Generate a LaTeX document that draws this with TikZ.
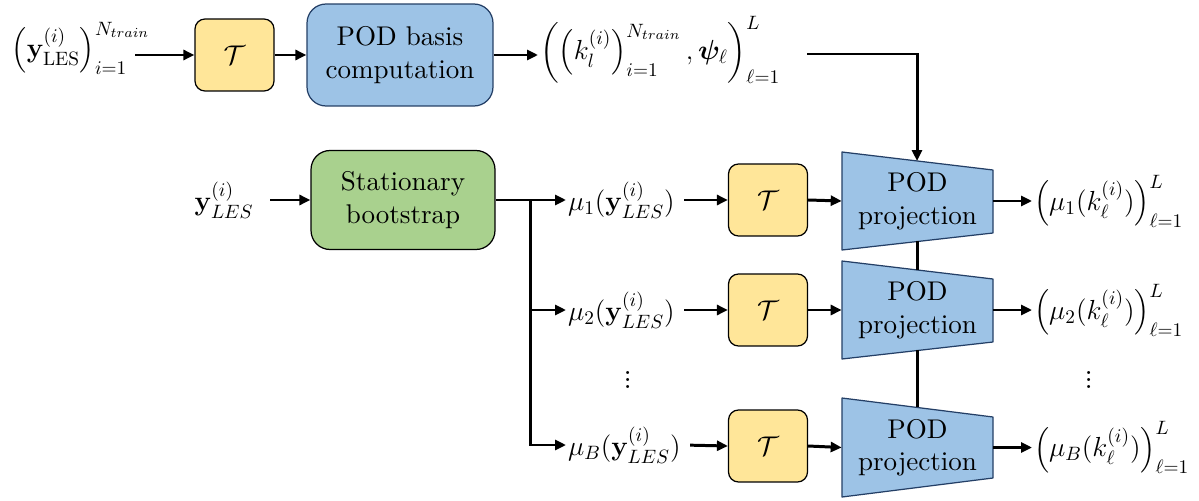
\documentclass[tikz,border=0pt]{standalone}
\usepackage{fix-cm}
\usepackage{amsmath,bm}
\usetikzlibrary{arrows.meta,calc}
\DeclareFontFamily{TU}{lmrten}{}
\DeclareFontShape{TU}{lmrten}{m}{n}{<-> \UnicodeFontFile{lmroman10-regular}{\UnicodeFontTeXLigatures}}{}
\definecolor{tyellow}{HTML}{FFE699}
\definecolor{tblue}{HTML}{9DC3E6}
\definecolor{tgreen}{HTML}{A9D18E}
\definecolor{tnavy}{HTML}{243F66}
\begin{document}
\begin{tikzpicture}[x=0.02cm,y=-0.02cm,
  font=\fontfamily{lmrten}\fontsize{15.4}{18.5}\selectfont,
  arr/.style={line width=1.7pt,-{Triangle[length=0.22cm,width=0.2cm]}},
  ln/.style={line width=1.7pt},
  tbox/.style={draw=black,line width=0.7pt,fill=tyellow,rounded corners=0.2cm,minimum width=1.58cm,minimum height=1.44cm,inner sep=0pt},
  bigbox/.style={line width=0.7pt,rounded corners=0.38cm,align=center,inner sep=0pt},
  podbox/.style={bigbox,draw=tnavy,fill=tblue,minimum width=3.72cm,minimum height=2.04cm},
  bootbox/.style={bigbox,draw=black,fill=tgreen,minimum width=3.68cm,minimum height=1.98cm},
  trap/.style={draw=tnavy,fill=tblue,line width=0.7pt,line join=round},
  traptext/.style={minimum width=3.02cm,minimum height=1.96cm,align=center,inner sep=0pt},
  lab/.style={inner sep=1pt,font=\fontsize{15.7}{18.5}\selectfont},
  dotsnode/.style={inner sep=0pt,font=\fontsize{21}{24}\selectfont},
]
\useasboundingbox (0,0) rectangle (1199,500);

% ---- top row ----
\node[lab,anchor=east] (Lin) at (152,48) {$\left(\mathbf{y}_{\mathrm{LES}}^{(i)}\right)_{i=1}^{N_{train}}$};
\coordinate (Lout) at (135,55);
\node[tbox] (T0) at (234.5,55) {$\mathcal{T}$};
\node[podbox] (B0) at (400,55) {POD basis\\computation};
\node[lab,anchor=west] (K) at (538,50) {$\left(\left(k_l^{(i)}\right)_{i=1}^{N_{train}},\boldsymbol{\psi}_\ell\right)_{\ell=1}^{L}$};
\coordinate (Kout) at (807,54);

\draw[arr] (Lout) -- (T0.west);
\draw[arr] (T0.east) -- (B0.west);
\draw[arr] (B0.east) -- (B0.east -| K.west);

% ---- trapezoids ----
\draw[trap] (842,152) -- (993,170) -- (993,233) -- (842,250) -- cycle;
\draw[trap] (842,261) -- (993,279) -- (993,342) -- (842,359) -- cycle;
\draw[trap] (842,398) -- (993,417) -- (993,478) -- (842,497) -- cycle;
\node[traptext] (P1) at (917.5,201) {POD\\projection};
\node[traptext] (P2) at (917.5,310) {POD\\projection};
\node[traptext] (P3) at (917.5,447.5) {POD\\projection};
\coordinate (P1top) at (917,161);
\coordinate (P1bot) at (917,241);
\coordinate (P2top) at (917,270);
\coordinate (P2bot) at (917,350);
\coordinate (P3top) at (917,407);

\draw[arr] (Kout) -| (P1top);
\draw[ln] (P1bot) -- (P2top);
\draw[ln] (P2bot) -- (P3top);

% ---- middle ----
\node[lab] (Y) at (224,200) {$\mathbf{y}_{LES}^{(i)}$};
\node[bootbox] (S) at (403,200) {Stationary\\bootstrap};
\coordinate (J) at (530,200);
\node[lab,anchor=west] (M1) at (566,200) {$\mu_1(\mathbf{y}_{LES}^{(i)})$};
\node[lab,anchor=west] (M2) at (566,310) {$\mu_2(\mathbf{y}_{LES}^{(i)})$};
\node[lab,anchor=west] (M3) at (566,445) {$\mu_B(\mathbf{y}_{LES}^{(i)})$};
\node[dotsnode] (D1) at (628,375) {$\vdots$};

\node[tbox] (T1) at (768,200) {$\mathcal{T}$};
\node[tbox] (T2) at (768,310) {$\mathcal{T}$};
\node[tbox] (T3) at (768,446) {$\mathcal{T}$};

\node[lab,anchor=west] (O1) at (1032,201) {$\left(\mu_1(k_\ell^{(i)})\right)_{\ell=1}^{L}$};
\node[lab,anchor=west] (O2) at (1032,310) {$\left(\mu_2(k_\ell^{(i)})\right)_{\ell=1}^{L}$};
\node[lab,anchor=west] (O3) at (1032,447.5) {$\left(\mu_B(k_\ell^{(i)})\right)_{\ell=1}^{L}$};
\node[dotsnode] (D2) at (1089,375) {$\vdots$};

\draw[arr,shorten <=0.3cm] (Y.east) -- (S.west);
\draw[arr] (S.east) -- (M1.west);
\draw[arr] (J) |- (M2.west);
\draw[arr] (J) |- (M3.west);

\draw[arr,shorten <=0.15cm] (M1.east) -- (T1.west);
\draw[arr,shorten <=0.15cm] (M2.east) -- (T2.west);
\draw[arr,shorten <=0.15cm] (M3.east) -- (T3.west);

\draw[arr] (T1.east) -- (P1.west);
\draw[arr] (T2.east) -- (P2.west);
\draw[arr] (T3.east) -- (P3.west);

\draw[arr] (P1.east) -- (O1.west);
\draw[arr] (P2.east) -- (O2.west);
\draw[arr] (P3.east) -- (O3.west);
\end{tikzpicture}
\end{document}
